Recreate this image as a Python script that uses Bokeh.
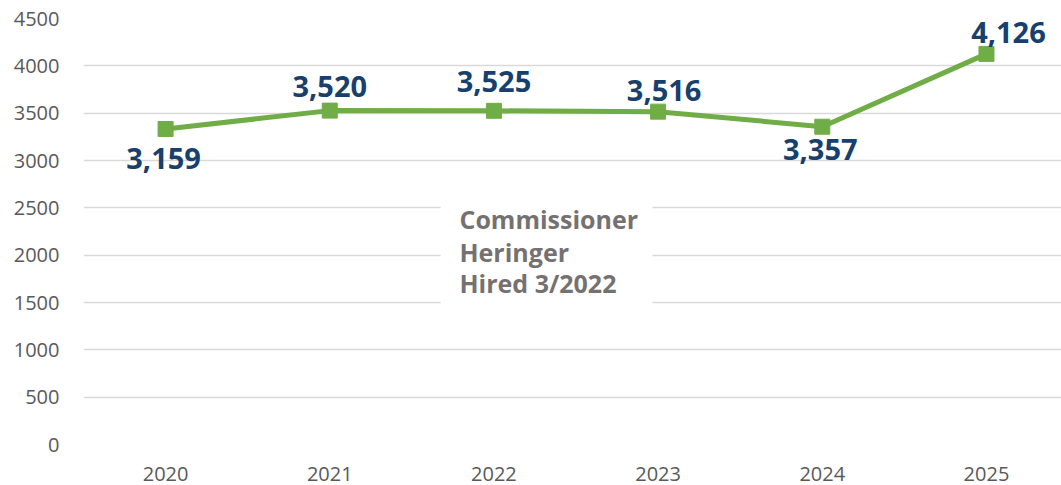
from bokeh.plotting import figure
from bokeh.models import Range1d, FixedTicker, ColumnDataSource
from bokeh.core.properties import value
from bokeh.embed import file_html
from bokeh.resources import INLINE

# ---- data ----
years = ["2020", "2021", "2022", "2023", "2024", "2025"]
counts = [3333, 3527, 3525, 3516, 3357, 4126]
count_labels = ["3,159", "3,520", "3,525", "3,516", "3,357", "4,126"]
note_lines = ["Commissioner", "Heringer", "Hired 3/2022"]

# ---- styling ----
GREEN = "#70AD47"
NAVY = "#17406D"
NOTE = "#767171"
AXIS_TXT = "#595959"
FONT = "Open Sans"

xs = list(range(len(years)))

p = figure(width=1061, height=485, output_backend="svg", toolbar_location=None,
           x_range=Range1d(-0.5, 5.457), y_range=Range1d(0, 4500),
           min_border_left=83, min_border_right=0, min_border_top=18, min_border_bottom=41)
p.outline_line_color = None
p.background_fill_color = "white"
p.border_fill_color = "white"
p.xgrid.grid_line_color = None
p.ygrid.grid_line_color = "#D9D9D9"
p.ygrid.grid_line_width = 1.5

p.yaxis.ticker = FixedTicker(ticks=list(range(0, 4501, 500)))
p.xaxis.ticker = FixedTicker(ticks=xs)
p.xaxis.major_label_overrides = {i: y for i, y in enumerate(years)}
for ax in (p.xaxis, p.yaxis):
    ax.axis_line_color = None
    ax.major_tick_line_color = None
    ax.minor_tick_line_color = None
    ax.major_tick_out = 0
    ax.major_tick_in = 0
    ax.major_label_text_color = AXIS_TXT
    ax.major_label_text_font = FONT
    ax.major_label_text_font_size = "20px"
p.yaxis.major_label_standoff = 24
p.xaxis.major_label_standoff = 22

# white box behind note (hides gridlines)
p.quad(left=[1.675], right=[2.966], bottom=[1420], top=[2600],
       fill_color="white", line_color=None)

# note text
note_y = [2385, 2030, 1710]
p.text(x=[1.79] * 3, y=note_y, text=note_lines, text_color=NOTE,
       text_font=value(FONT), text_font_style="bold", text_font_size="25px",
       text_align="left", text_baseline="alphabetic")

src = ColumnDataSource(dict(x=xs, y=counts, lab=count_labels,
                            dx=[-2, 0, 0, 6, -2, 22],
                            dy=[30, -24, -29, -21, 23, -21]))
p.line("x", "y", source=src, line_color=GREEN, line_width=5)
p.scatter("x", "y", source=src, marker="square", size=15,
          fill_color=GREEN, line_color=GREEN)
p.text("x", "y", text="lab", source=src, x_offset="dx", y_offset="dy",
       text_color=NAVY, text_font=value(FONT), text_font_style="bold",
       text_font_size="29px", text_align="center", text_baseline="middle")

open("out.html", "w").write(file_html(p, INLINE))
